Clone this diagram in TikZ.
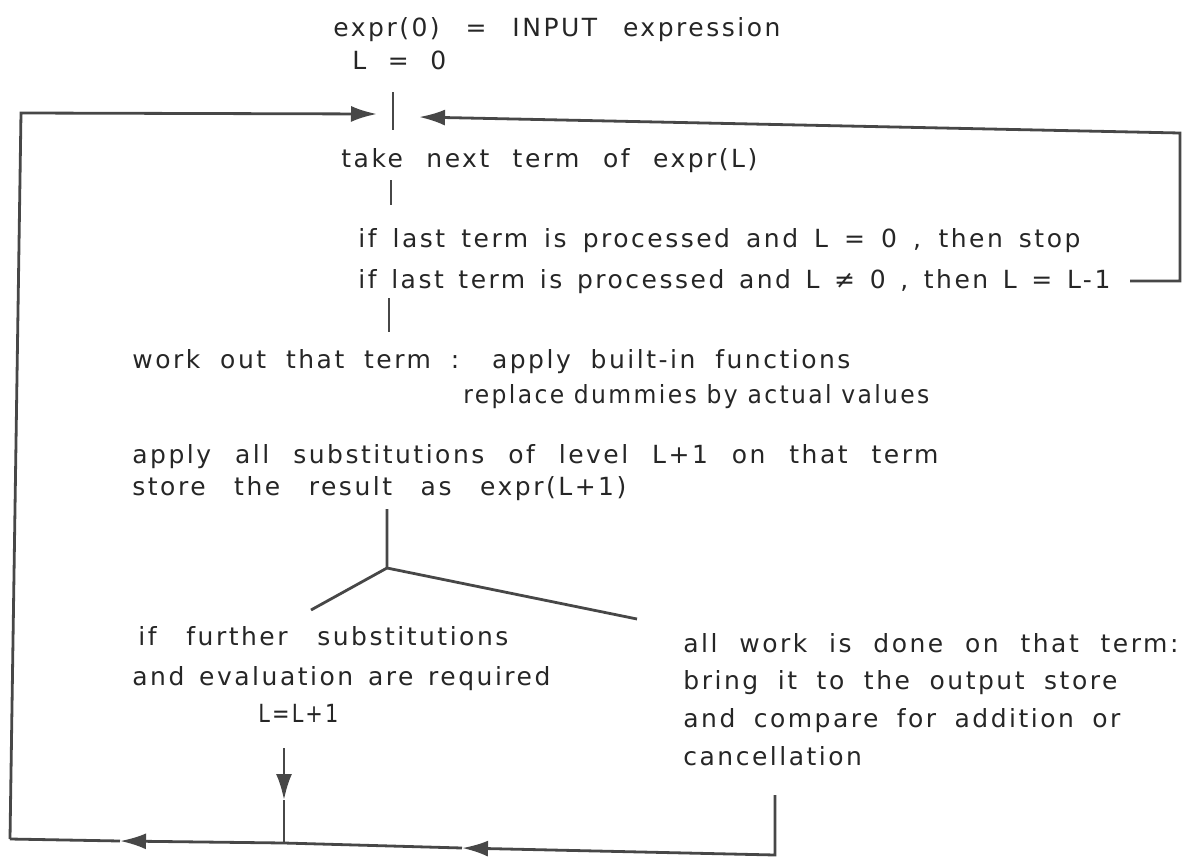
\documentclass[tikz,border=0pt]{standalone}
\usepackage{fontspec}
\setmainfont{DejaVu Sans}[LetterSpace=10]
\usetikzlibrary{arrows.meta}
\hbadness=10000 \hfuzz=1000pt
\newcommand\fitw[2]{%
  \setbox0=\hbox{#2}%
  \dimen0=#1pt \divide\dimen0 by 2
  \ifdim\wd0<\dimen0 \makebox[\dimen0][s]{#2}%
  \else\pgfmathsetmacro\fsc{\the\dimen0/\the\wd0}\scalebox{\fsc}[1]{#2}\fi}
\tikzset{
  ln/.style={line width=1.4pt, draw=black!72},
  arr/.style={ln, -{Latex[length=13pt,width=8pt]}},
  txt/.style={inner sep=0pt, anchor=base west, text=black!85, font=\fontsize{12.5}{14}\selectfont}
}
\begin{document}
\begin{tikzpicture}[x=0.5pt,y=-0.5pt]
\useasboundingbox (0,0) rectangle (1184,857);
% texts
\node[txt] (t1) at (333,36) {\fitw{447}{expr(0) = INPUT expression}};
\node[txt] (t2) at (352,69) {\fitw{94}{L = 0}};
\node[txt] (t3) at (341,167) {\fitw{416}{take next term of expr(L)}};
\node[txt] (t4) at (358,247) {\fitw{722}{if last term is processed and L = 0 , then stop}};
\node[txt] (t5) at (358,288) {\fitw{752}{if last term is processed and L ≠ 0 , then L = L-1}};
\node[txt] (t6) at (132,368) {\fitw{718}{work out that term : apply built-in functions}};
\node[txt] (t7) at (463,403) {\fitw{466}{replace dummies by actual values}};
\node[txt] (t8) at (132,463) {\fitw{806}{apply all substitutions of level L+1 on that term}};
\node[txt] (t9) at (132,495) {\fitw{494}{store the result as expr(L+1)}};
\node[txt] (t10) at (138,645) {\fitw{370}{if further substitutions}};
\node[txt] (t11) at (132,685) {\fitw{418}{and evaluation are required}};
\node[txt] (t12) at (258,722) {\fitw{80}{L=L+1}};
\node[txt] (t13) at (683,652) {\fitw{495}{all work is done on that term:}};
\node[txt] (t14) at (683,689) {\fitw{434}{bring it to the output store}};
\node[txt] (t15) at (683,727) {\fitw{437}{and compare for addition or}};
\node[txt] (t16) at (683,765) {\fitw{187}{cancellation}};
% coordinates
\coordinate (v1t) at (393,92);  \coordinate (v1b) at (393,130);
\coordinate (tipL) at (377,114); \coordinate (tipR) at (419,117);
\coordinate (ctl) at (21,113);  \coordinate (cbl) at (10,839);
\coordinate (ctr) at (1180,133); \coordinate (cbr) at (1180,281);
\coordinate (stub) at (1130,281);
\coordinate (v2t) at (391,180); \coordinate (v2b) at (391,205);
\coordinate (v3t) at (389,298); \coordinate (v3b) at (389,332);
\coordinate (v4t) at (387,509); \coordinate (j) at (387,568);
\coordinate (bL) at (311,610);  \coordinate (bR) at (637,619);
\coordinate (a1s) at (284,748); \coordinate (a1e) at (284,800);
\coordinate (stem) at (284,843);
\coordinate (r1t) at (775,795); \coordinate (r1b) at (775,855);
\coordinate (m1) at (462,848);  \coordinate (m2) at (120,841);
% connectors
\draw[ln] (v1t) -- (v1b);
\draw[arr] (cbl) -- (ctl) -- (tipL);
\draw[arr] (stub) -- (cbr) -- (ctr) -- (tipR);
\draw[ln] (v2t) -- (v2b);
\draw[ln] (v3t) -- (v3b);
\draw[ln] (v4t) -- (j) -- (bL);
\draw[ln] (j) -- (bR);
\draw[arr] (a1s) -- (a1e);
\draw[ln] (a1e) -- (stem);
\draw[arr] (r1t) -- (r1b) -- (m1);
\draw[arr] (m1) -- (stem) -- (m2);
\draw[ln] (m2) -- (cbl);
\end{tikzpicture}
\end{document}
